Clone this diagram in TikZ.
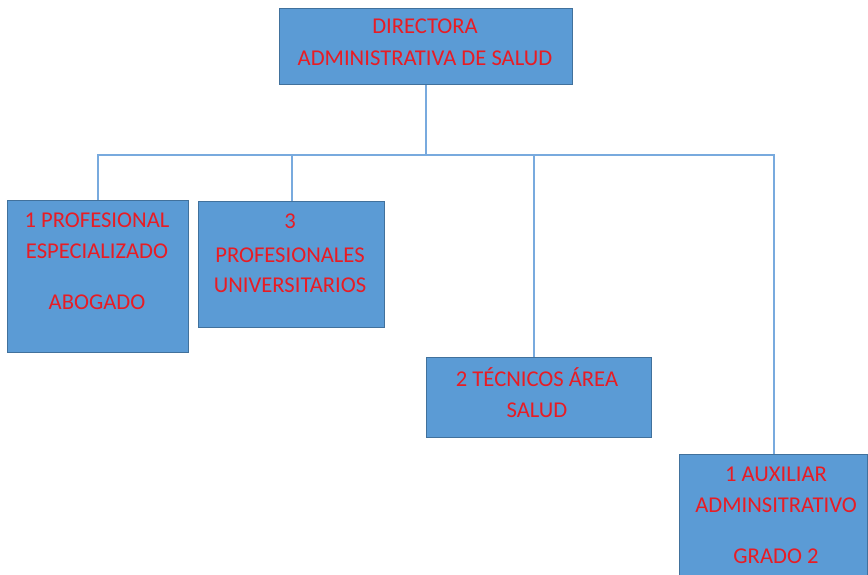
\documentclass[tikz,border=0pt]{standalone}
\usepackage{fontspec}
\setmainfont{Carlito}
\definecolor{boxfill}{RGB}{91,155,213}
\definecolor{boxline}{RGB}{65,113,156}
\definecolor{wire}{RGB}{120,170,222}
\definecolor{txt}{RGB}{232,28,36}
\tikzset{
  orgbox/.style={draw=boxline, line width=1.3pt, fill=boxfill, inner sep=0pt, anchor=north west},
  lbl/.style={anchor=base, text=txt, font=\fontsize{22.6}{25}\selectfont, inner sep=0pt},
  wireline/.style={draw=wire, line width=1.8pt}
}
\begin{document}
\begin{tikzpicture}[x=1pt,y=-1pt]
\useasboundingbox (0,0) rectangle (868,575);
\clip (0,0) rectangle (868,575);
% boxes
\node[orgbox, minimum width=293pt, minimum height=76pt] (top) at (279,8) {};
\node[orgbox, minimum width=181pt, minimum height=152pt] (b1) at (7,200) {};
\node[orgbox, minimum width=186pt, minimum height=126pt] (b2) at (198,201) {};
\node[orgbox, minimum width=225pt, minimum height=80pt] (b3) at (426,357) {};
\node[orgbox, minimum width=188pt, minimum height=160pt] (b4) at (679,454) {};
% bus
\coordinate (bus) at (0,155);
\coordinate (s3) at (534,357);
\draw[wireline] (top.south) -- (top.south |- bus);
\draw[wireline] (b1.north) -- (b1.north |- bus) -- (b4.north |- bus) -- (b4.north);
\draw[wireline] (b2.north) -- (b2.north |- bus);
\draw[wireline] (s3) -- (s3 |- bus);
% texts
\node[lbl] (t0a) at (425,34) {DIRECTORA};
\node[lbl] (t0b) at (425,66) {ADMINISTRATIVA DE SALUD};
\node[lbl] (t1a) at (97,227) {1 PROFESIONAL};
\node[lbl] (t1b) at (97,258) {ESPECIALIZADO};
\node[lbl] (t1c) at (97,309) {ABOGADO};
\node[lbl] (t2a) at (290,229) {3};
\node[lbl] (t2b) at (290,262) {PROFESIONALES};
\node[lbl] (t2c) at (290,292) {UNIVERSITARIOS};
\node[lbl] (t3a) at (537,386) {2 TÉCNICOS ÁREA};
\node[lbl] (t3b) at (537,417) {SALUD};
\node[lbl] (t4a) at (776,481) {1 AUXILIAR};
\node[lbl] (t4b) at (776,512) {ADMINSITRATIVO};
\node[lbl] (t4c) at (776,563) {GRADO 2};
\end{tikzpicture}
\end{document}
